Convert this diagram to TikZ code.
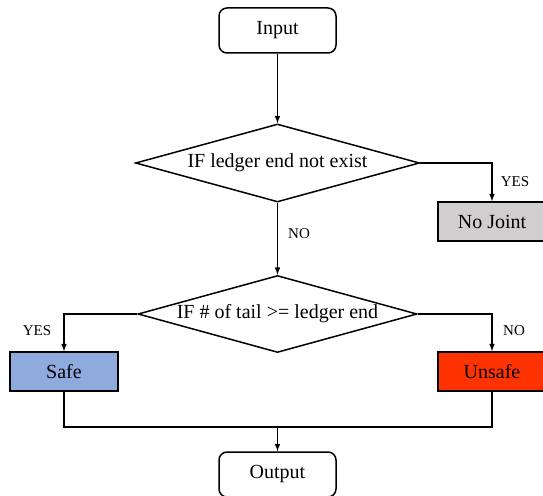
\documentclass[tikz,border=0pt]{standalone}
\usepackage{fontspec}
\setmainfont{Liberation Serif}
\usepackage{tikz}
\usetikzlibrary{shapes.geometric, arrows, positioning}
\definecolor{safeblue}{RGB}{143,170,220}
\definecolor{unsafered}{RGB}{255,51,0}
\definecolor{jointgray}{RGB}{208,206,206}

\tikzset{
    term/.style={draw, line width=1.5pt, rounded corners=8pt, minimum width=117pt, minimum height=45pt, font=\fontsize{20}{23}\selectfont},
    decide/.style={draw, diamond, line width=1.5pt, inner sep=0pt, aspect=3.6, font=\fontsize{20}{23}\selectfont},
    result/.style={draw, line width=1.5pt, minimum width=108pt, minimum height=39pt, font=\fontsize{20}{23}\selectfont},
    lbl/.style={font=\fontsize{15}{18}\selectfont},
    flow/.style={line width=1.5pt, -latex}
}

\begin{document}
\begin{tikzpicture}[x=1pt, y=-1pt]
    \useasboundingbox (0,0) rectangle (543,495);

    % Start and end
    \node[term] (input) at (277.5,30.5) {Input};
    \node[term] (output) at (277.5,474.5) {Output};

    % Decisions
    \node[decide, minimum width=284pt, minimum height=78pt] (dec1) at (277.5,163) {IF ledger end not exist};
    \node[decide, minimum width=279pt, minimum height=77pt] (dec2) at (277.5,314) {IF \# of tail >= ledger end};

    % Results
    \node[result, fill=jointgray] (nojoint) at (492,221.5) {No Joint};
    \node[result, fill=safeblue] (safe) at (64,371.5) {Safe};
    \node[result, fill=unsafered] (unsafe) at (492,371.5) {Unsafe};

    % Connectors
    \draw[flow] (input) -- (dec1);
    \draw[flow] (dec1.east) -| (nojoint.north);
    \draw[flow] (dec1.south) -- (dec2.north);
    \draw[flow] (dec2.west) -| (safe.north);
    \draw[flow] (dec2.east) -| (unsafe.north);
    \coordinate (join) at (277.5,427);
    \draw[line width=1.5pt] (safe.south) |- (join) -| (unsafe.south);
    \draw[flow] (join) -- (output);

    % Branch labels
    \node[lbl] (yes1) at (515,182) {YES};
    \node[lbl] (no1) at (299,234) {NO};
    \node[lbl] (yes2) at (37,331) {YES};
    \node[lbl] (no2) at (514,331) {NO};
\end{tikzpicture}
\end{document}
